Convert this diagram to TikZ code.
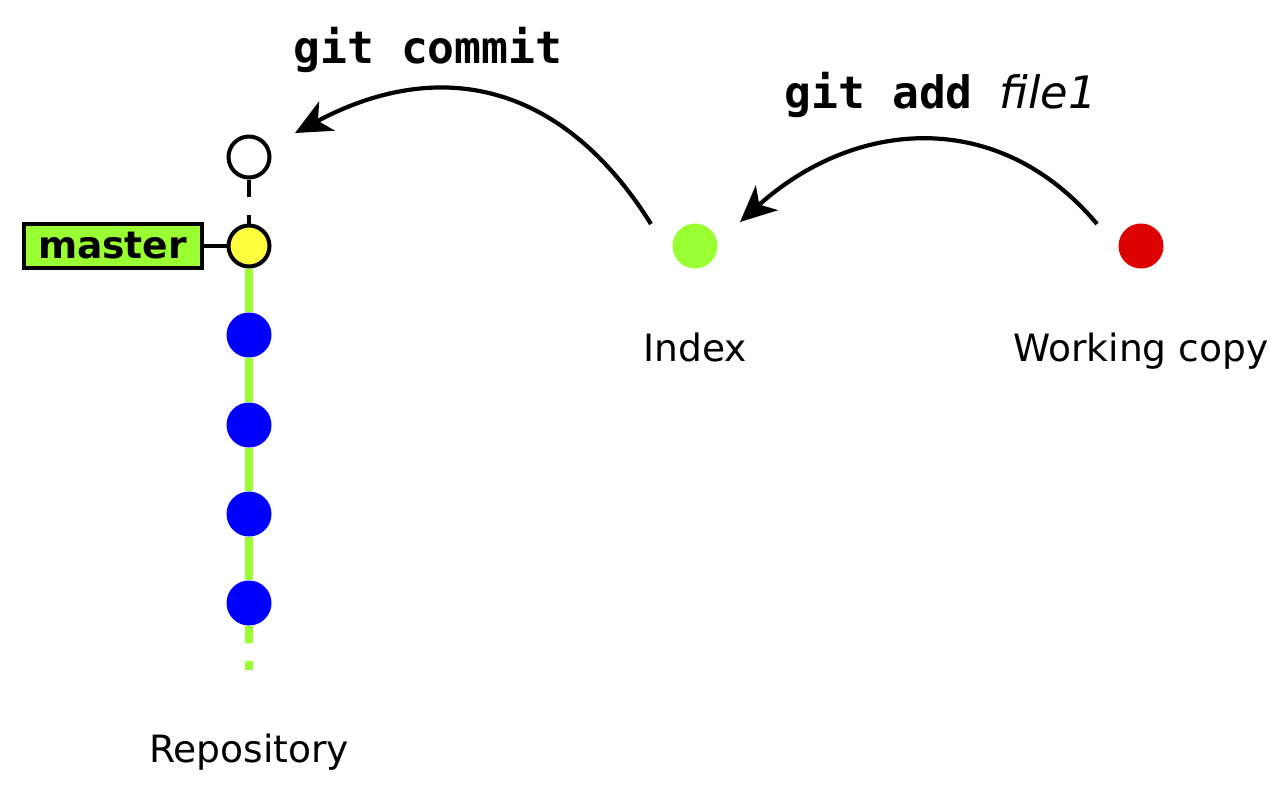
\documentclass[tikz,border=0pt]{standalone}
\usepackage{fontspec}
\setmainfont{DejaVu Sans}
\setmonofont{DejaVu Sans Mono}
\usetikzlibrary{positioning,arrows.meta}
\definecolor{branchgreen}{RGB}{153,255,51}
\definecolor{headyellow}{RGB}{255,255,64}
\definecolor{commitblue}{RGB}{0,0,255}
\definecolor{wcred}{RGB}{221,0,0}

\begin{document}
\begin{tikzpicture}[>={Stealth[length=0.36cm,width=0.33cm,inset=0.1cm]},
        commit/.style={circle,fill=commitblue,minimum size=0.45cm,inner sep=0},
        emptycommit/.style={circle,draw,line width=0.04cm,minimum size=0.41cm,inner sep=0},
        headcommit/.style={emptycommit,fill=headyellow},
        filedot/.style={circle,minimum size=0.45cm,inner sep=0},
        branchlabel/.style={draw,line width=0.04cm,fill=branchgreen,minimum width=1.78cm,minimum height=0.44cm,inner sep=0,font=\fontsize{10.7}{12}\selectfont\bfseries},
        arealabel/.style={inner sep=0,font=\fontsize{10.7}{12}\selectfont},
        cmdlabel/.style={inner sep=0,font=\fontsize{12.7}{15}\selectfont},
        trunk/.style={branchgreen,line width=0.08cm},
        cmdarrow/.style={->,line width=0.042cm}]
        \useasboundingbox (0,0) rectangle (12.87,7.84);

        \node[emptycommit] (new) at (2.49,6.27) {};
        \node[headcommit] (cur) at (2.49,5.38) {};
        \node[commit] (c1) at (2.49,4.49) {};
        \node[commit] (c2) at (2.49,3.59) {};
        \node[commit] (c3) at (2.49,2.70) {};
        \node[commit] (c4) at (2.49,1.81) {};
        \coordinate (tail) at (2.49,1.41);
        \coordinate (tailend) at (2.49,1.14);

        \node[filedot,fill=branchgreen] (idx) at (6.95,5.38) {};
        \node[filedot,fill=wcred] (wc) at (11.41,5.38) {};

        \draw[trunk] (cur) -- (c1) -- (c2) -- (c3) -- (c4) -- (tail);
        \draw[trunk,dash pattern=on 0.09cm off 0.18cm] (tailend) -- (tail);
        \draw[line width=0.04cm,dash pattern=on 0.17cm off 0.18cm] (new) -- (cur);

        \node[branchlabel,left=0.23cm of cur] (master) {master};
        \draw[line width=0.04cm] (master) -- (cur);

        \node[arealabel,below=0.63cm of idx] {Index};
        \node[arealabel,below=0.63cm of wc] {Working copy};
        \node[arealabel,below=1.07cm of c4] {Repository};

        \draw[cmdarrow] ([shift={(-0.44,0.22)}]idx.center) to[out=122,in=28,looseness=1.15] ([shift={(0.46,0.24)}]new.center);
        \draw[cmdarrow] ([shift={(-0.44,0.22)}]wc.center) to[out=130,in=42,looseness=1.1] ([shift={(0.45,0.24)}]idx.center);

        \node[cmdlabel,anchor=base] (commitcmd) at (4.28,7.21) {\ttfamily\bfseries git commit};
        \node[cmdlabel,anchor=base west] (addcmd) at (7.84,6.76) {{\ttfamily\bfseries git add\ }{\itshape file1}};
    \end{tikzpicture}
\end{document}
